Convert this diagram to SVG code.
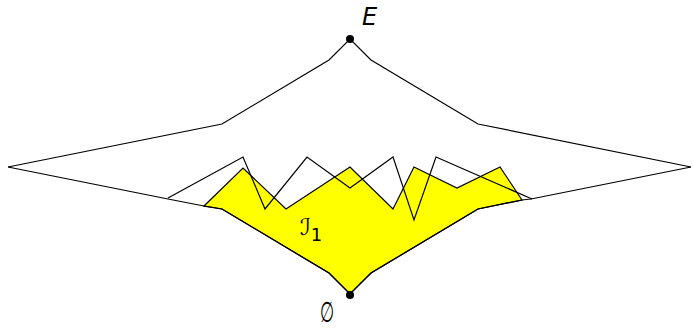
<svg xmlns="http://www.w3.org/2000/svg" width="693" height="328" viewBox="0 0 693 328">
<style>
.ln{fill:none;stroke:#000;stroke-width:1.2;stroke-linejoin:miter}
.ideal{fill:#ffff00;stroke:#000;stroke-width:1.2}
.dot{fill:#000}
.lbl{font-family:"DejaVu Sans",sans-serif;fill:#000}
</style>
<g id="connectors">
<polygon id="ideal" class="ideal" points="204,206 243,168 286,209 350,167 393,209 414,167 457,188 500,167 522,200 478,209 371,273 350,294 329,273 222,209"/>
<polyline class="ln" points="8,167 222,124 329,60 350,39 371,60 478,124 691,167"/>
<polyline class="ln" points="8,167 168,199 204,206 222,209 329,273 350,294 371,273 478,209 522,200 531,199 691,167"/>
<polyline class="ln" points="168,198 243,157 265,209 307,157 350,188 393,157 414,220 436,157 532,199"/>
</g>
<g id="top">
<circle class="dot" cx="350" cy="39" r="4"/>
<text class="lbl" x="362" y="25" font-size="24" font-style="italic">E</text>
</g>
<g id="bottom">
<circle class="dot" cx="350" cy="295" r="4"/>
<text class="lbl" transform="translate(327,322) scale(0.9,1.6)" x="0" y="0" font-size="18" text-anchor="middle">∅</text>
</g>
<g id="I1">
<text class="lbl" x="300" y="235" font-size="23">ℐ<tspan font-size="18" dy="6">1</tspan></text>
</g>
</svg>
